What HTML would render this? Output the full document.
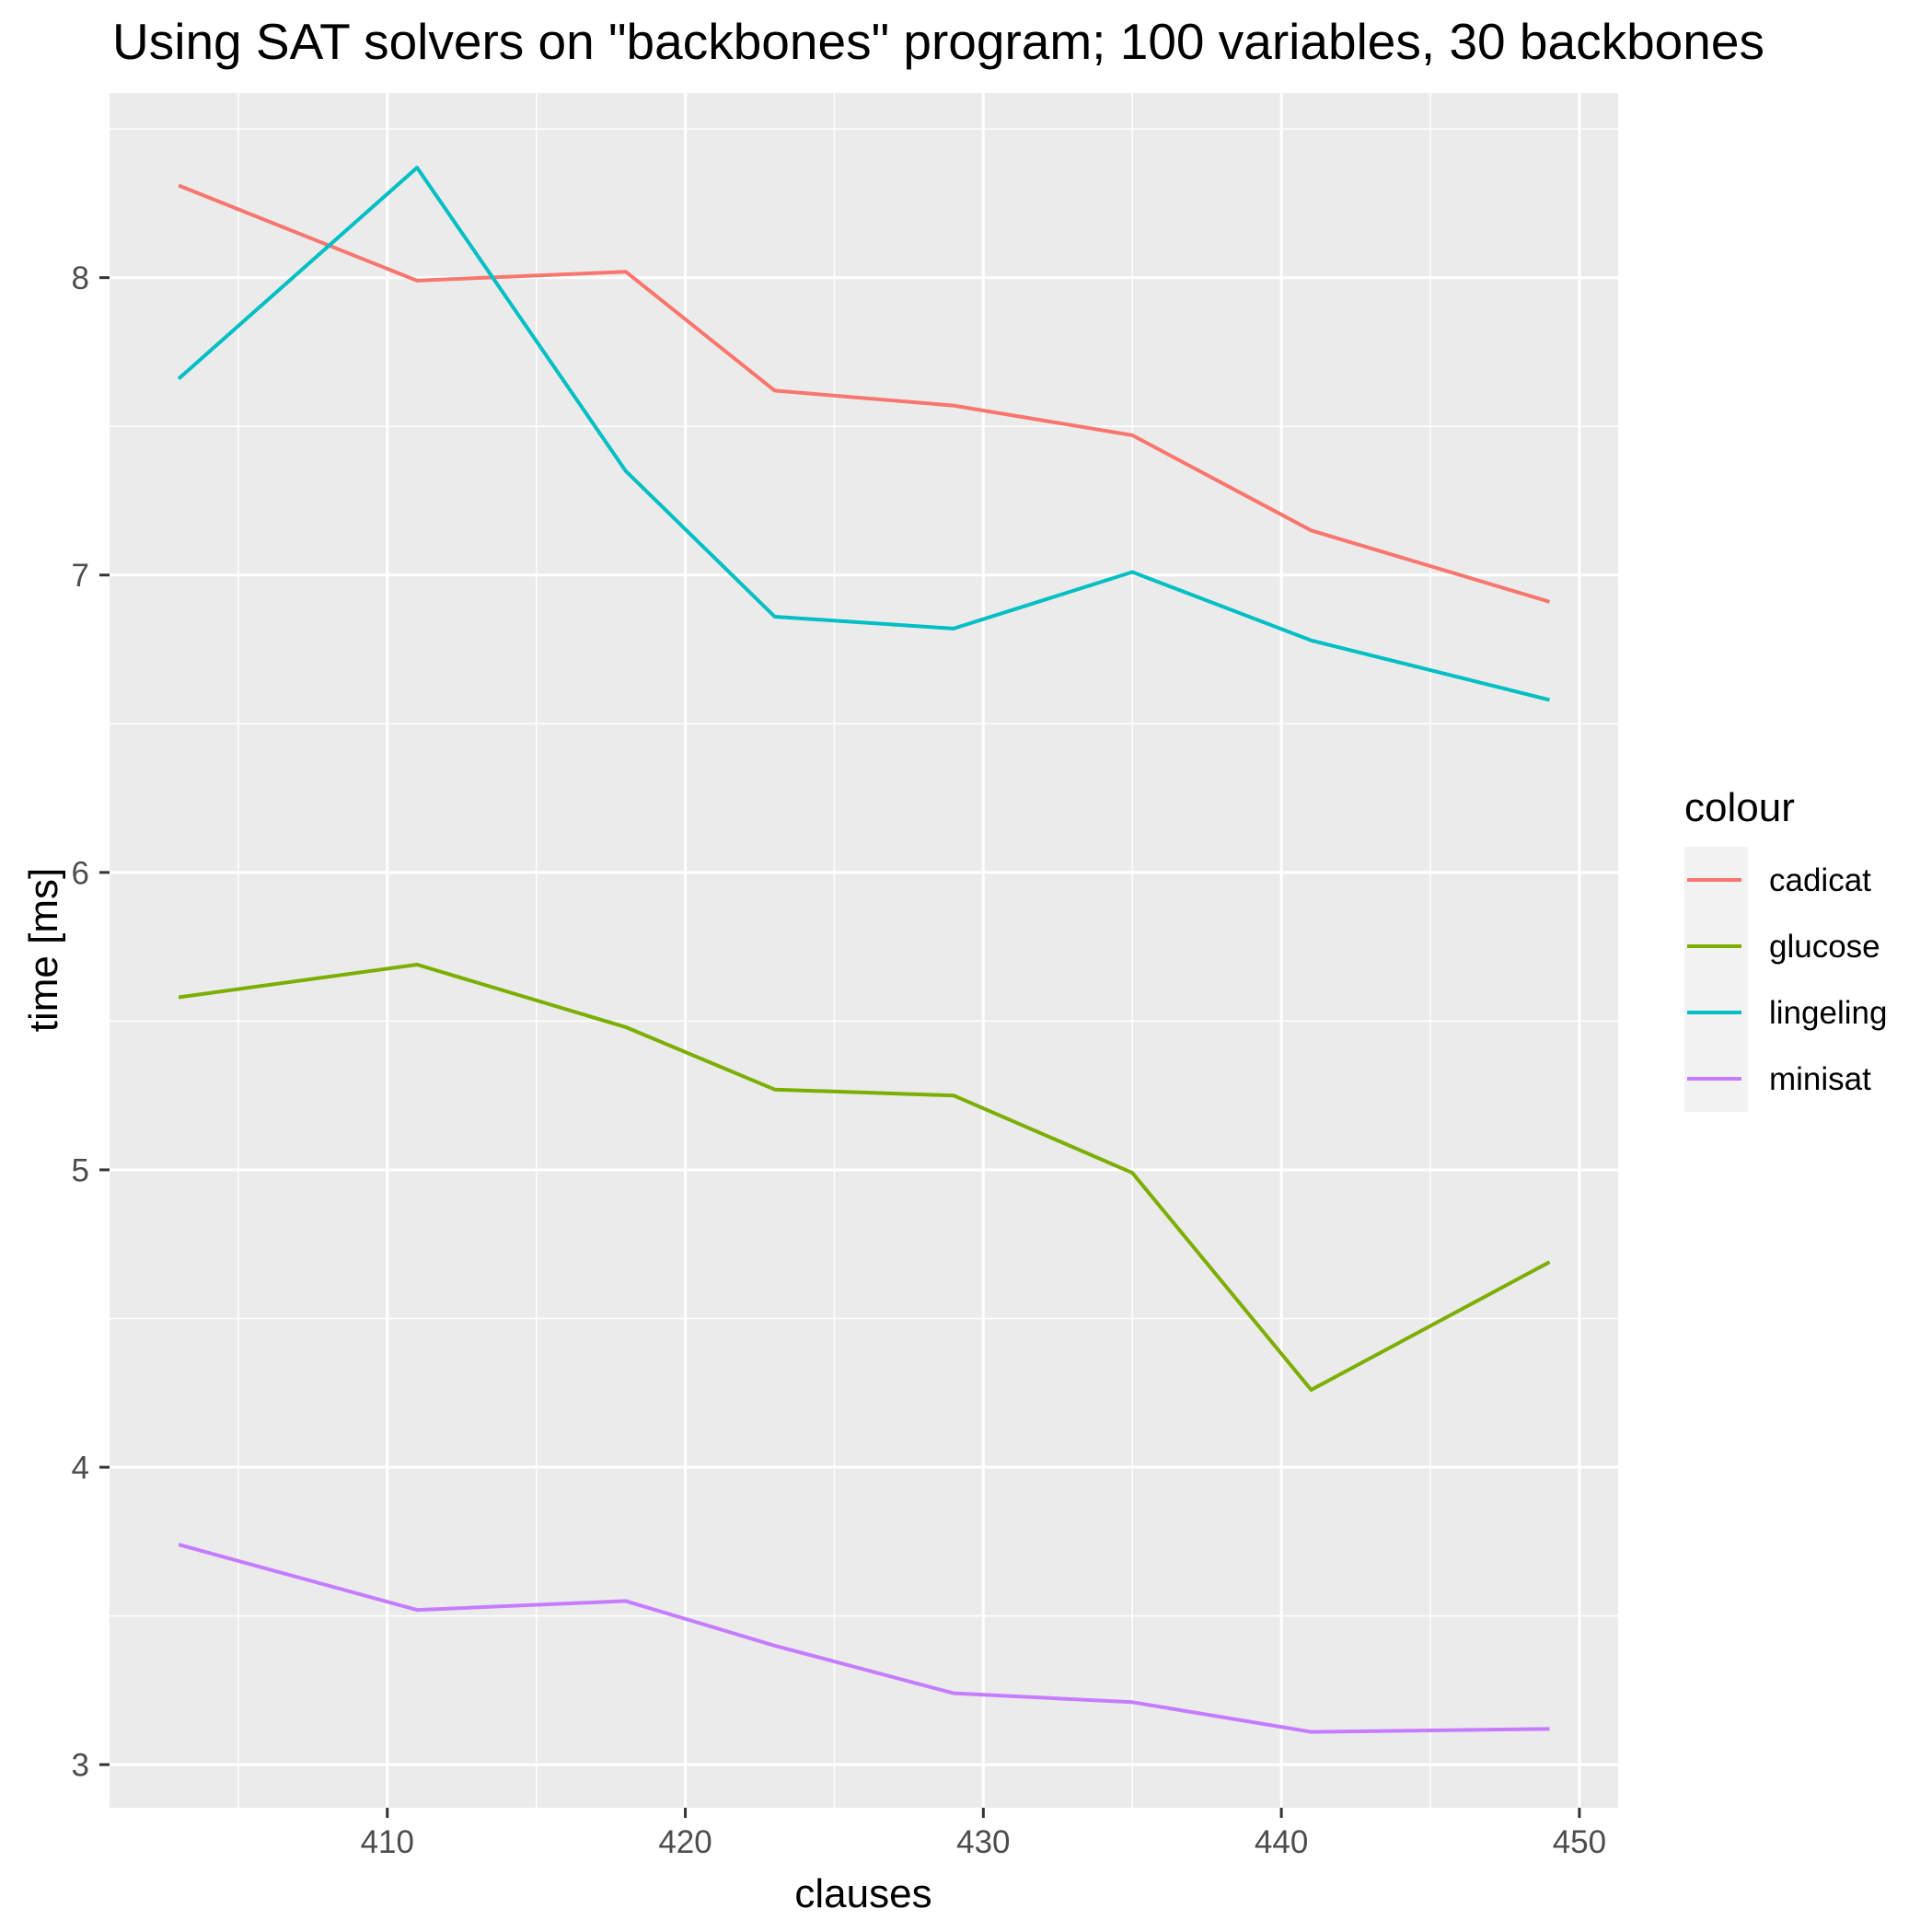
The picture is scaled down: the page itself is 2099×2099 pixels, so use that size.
<!DOCTYPE html>
<html><head><meta charset="utf-8"><style>
html,body{margin:0;padding:0;background:#fff;}
svg{display:block;font-family:"Liberation Sans",Arial,sans-serif;}
</style></head><body>
<svg id="chart" width="2099" height="2099" viewBox="0 0 2099 2099" xmlns="http://www.w3.org/2000/svg">
<rect x="0" y="0" width="2099" height="2099" fill="#fff"/>
<text x="122" y="64" font-size="55" fill="#000">Using SAT solvers on "backbones" program; 100 variables, 30 backbones</text>
<rect x="119" y="101" width="1639" height="1863" fill="#ebebeb"/>
<g id="grid"></g>
<g id="series"></g>
<g id="axes"></g>
<text x="938" y="2072" font-size="44" text-anchor="middle" fill="#000">clauses</text>
<text transform="translate(62,1032) rotate(-90)" font-size="44" text-anchor="middle" fill="#000">time [ms]</text>
<g id="legend">
<text x="1830" y="892" font-size="44" fill="#000">colour</text>
<rect x="1830" y="920" width="69" height="288" fill="#f2f2f2"/>
</g>
</svg>
<script>
const xCategories = [403, 411, 418, 423, 429, 435, 441, 449];
const seriesNames = ["cadicat", "glucose", "lingeling", "minisat"];
const cadicatValues = [8.31, 7.99, 8.02, 7.62, 7.57, 7.47, 7.15, 6.91];
const glucoseValues = [5.58, 5.69, 5.48, 5.27, 5.25, 4.99, 4.26, 4.69];
const lingelingValues = [7.66, 8.37, 7.35, 6.86, 6.82, 7.01, 6.78, 6.58];
const minisatValues = [3.74, 3.52, 3.55, 3.40, 3.24, 3.21, 3.11, 3.12];
const xTickLabels = [410, 420, 430, 440, 450];
const yTickLabels = [3, 4, 5, 6, 7, 8];
const seriesColors = ["#F8766D", "#7CAE00", "#00BFC4", "#C77CFF"];

const NS = "http://www.w3.org/2000/svg";
const PL = 119, PR = 1758, PT = 101, PB = 1964;
const XMIN = 400.68, XMAX = 451.3, YMIN = 2.855, YMAX = 8.621;
function xScale(v){ return PL + (v - XMIN) / (XMAX - XMIN) * (PR - PL); }
function yScale(v){ return PB - (v - YMIN) / (YMAX - YMIN) * (PB - PT); }
function mk(tag, attrs, parent){ const e = document.createElementNS(NS, tag); for (const k in attrs) e.setAttribute(k, attrs[k]); parent.appendChild(e); return e; }

const grid = document.getElementById('grid');
const axes = document.getElementById('axes');
for (let i = 0; i < xTickLabels.length; i++) {
  const mv = xTickLabels[i] - 5;
  const l = mk('line', {x1: xScale(mv), x2: xScale(mv), y1: PT, y2: PB, stroke: '#fff', 'stroke-width': 1.5}, grid);
  
  
}
for (let i = 0; i < yTickLabels.length; i++) {
  const mv = yTickLabels[i] + 0.5;
  const l = mk('line', {x1: PL, x2: PR, y1: yScale(mv), y2: yScale(mv), stroke: '#fff', 'stroke-width': 1.5}, grid);
  
  
}
xTickLabels.forEach(v => {
  const x = xScale(v);
  const g = mk('line', {x1: x, x2: x, y1: PT, y2: PB, stroke: '#fff', 'stroke-width': 3}, grid);
  
  
  const t = mk('line', {x1: x, x2: x, y1: PB, y2: PB + 11, stroke: '#333', 'stroke-width': 3}, axes);
  
  
  const tx = mk('text', {x: x, y: 2013, 'font-size': 35, 'text-anchor': 'middle', fill: '#4d4d4d'}, axes);
  tx.textContent = v;
  
  
});
yTickLabels.forEach(v => {
  const y = yScale(v);
  const g = mk('line', {x1: PL, x2: PR, y1: y, y2: y, stroke: '#fff', 'stroke-width': 3}, grid);
  
  
  const t = mk('line', {x1: PL - 11, x2: PL, y1: y, y2: y, stroke: '#333', 'stroke-width': 3}, axes);
  
  
  const tx = mk('text', {x: 97, y: y + 12.5, 'font-size': 35, 'text-anchor': 'end', fill: '#4d4d4d'}, axes);
  tx.textContent = v;
  
  
});
const allValues = [cadicatValues, glucoseValues, lingelingValues, minisatValues];
const series = document.getElementById('series');
const legend = document.getElementById('legend');
allValues.forEach((vals, si) => {
  const pts = vals.map((v, i) => xScale(xCategories[i]).toFixed(1) + ',' + yScale(v).toFixed(1)).join(' ');
  const pl = mk('polyline', {points: pts, fill: 'none', stroke: seriesColors[si], 'stroke-width': 4, 'stroke-linejoin': 'round'}, series);
  
  
  const ly = 956 + si * 72;
  const ll = mk('line', {x1: 1833, x2: 1892, y1: ly, y2: ly, stroke: seriesColors[si], 'stroke-width': 4}, legend);
  
  
  const lt = mk('text', {x: 1922, y: ly + 12, 'font-size': 35, fill: '#000'}, legend);
  lt.textContent = seriesNames[si];
  
  
});
</script>
</body></html>
